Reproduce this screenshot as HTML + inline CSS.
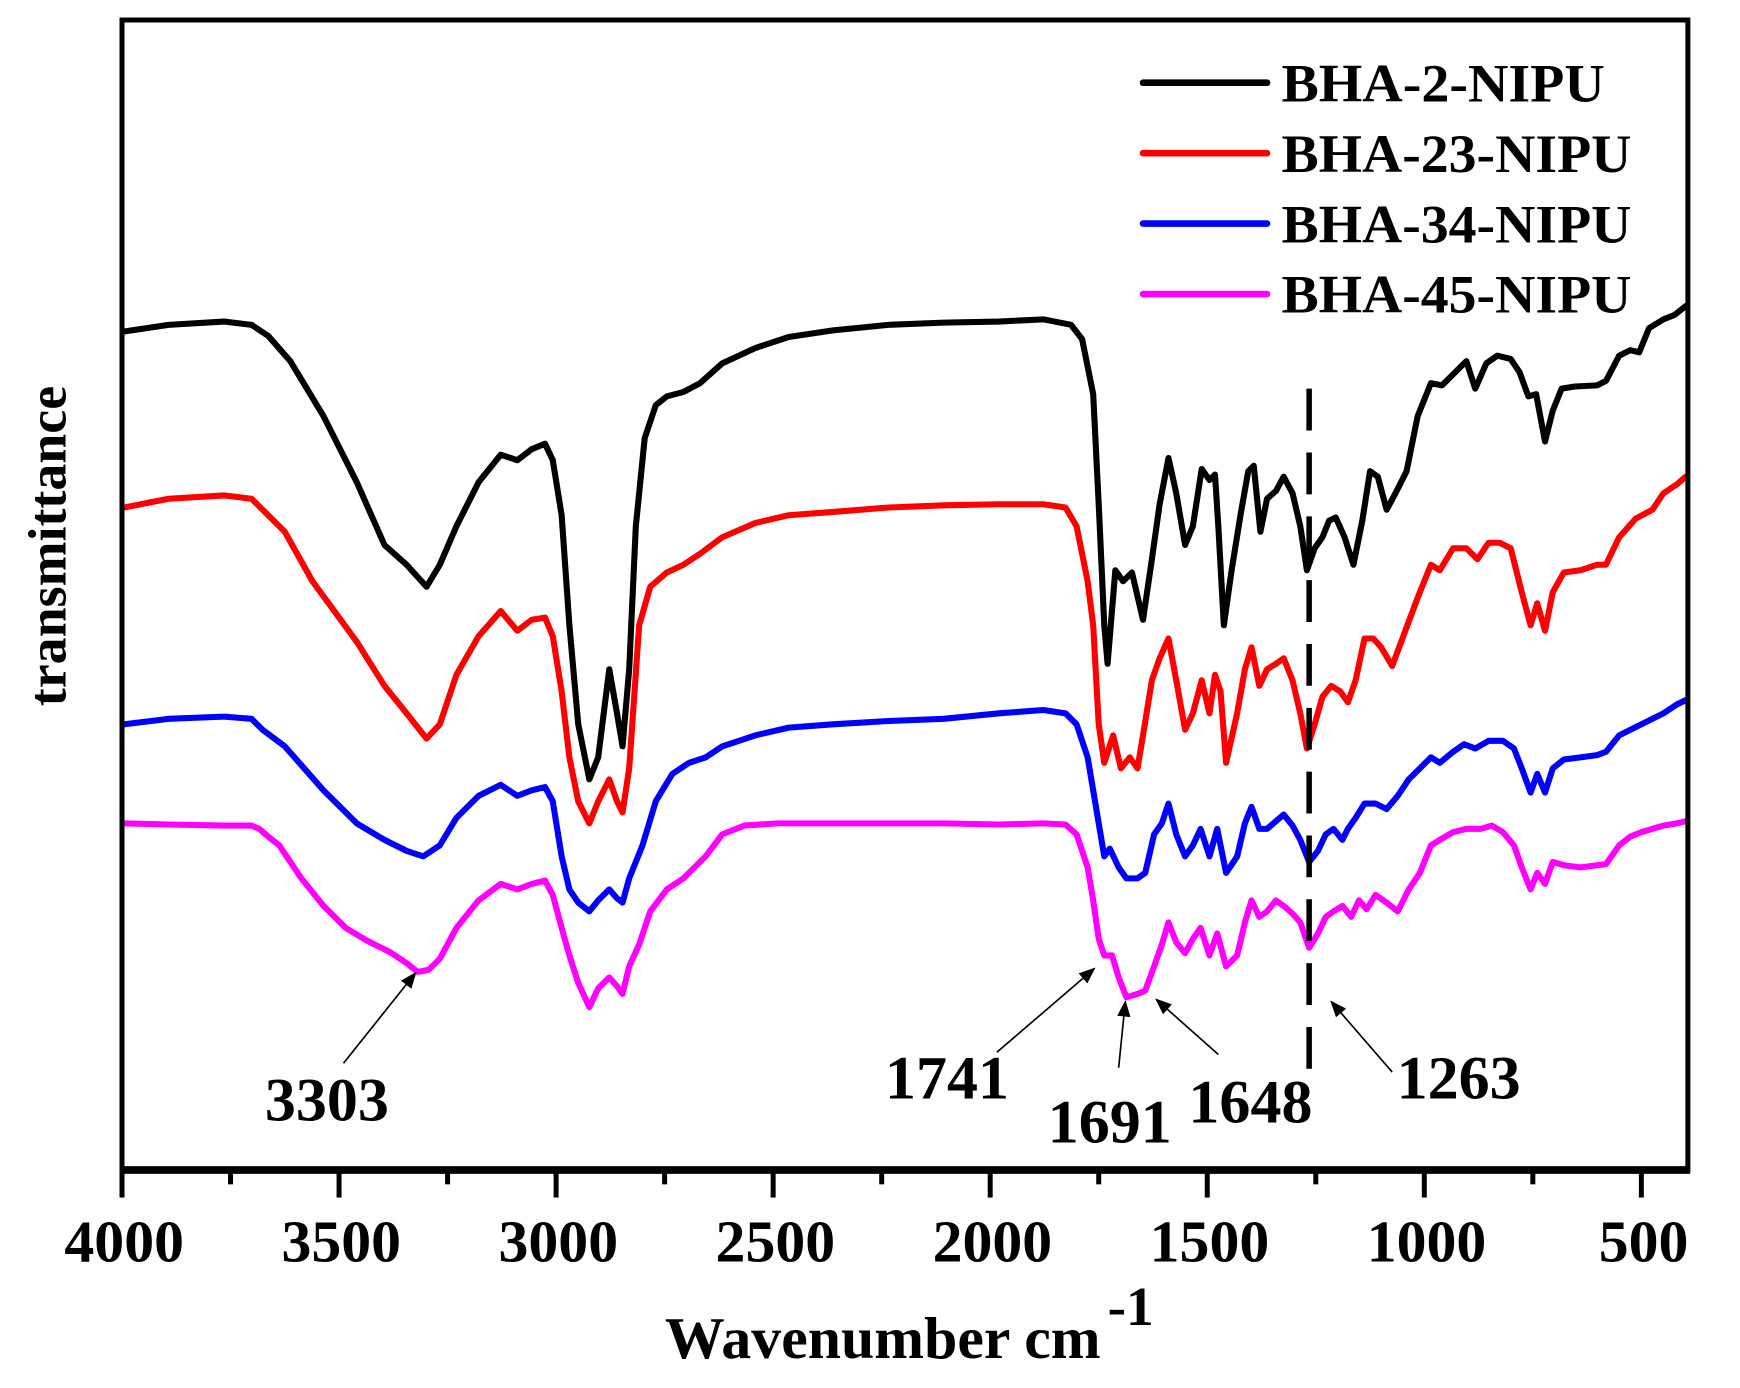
<!DOCTYPE html>
<html><head><meta charset="utf-8"><style>
html,body{margin:0;padding:0;background:#fff;}
svg{display:block;}
text{font-family:"Liberation Serif",serif;font-weight:bold;fill:#000;}
</style></head><body>
<svg width="1740" height="1388" viewBox="0 0 1740 1388" xmlns="http://www.w3.org/2000/svg">
<g transform="translate(2.4,9) scale(1.1074,1.1005)">
<g fill="none" stroke-linejoin="round" stroke-linecap="round" stroke-width="5.5">
<polyline stroke="#000" points="110,293 150,287 200,284 225,287 240,297 260,320 290,370 320,430 345,487 365,505 383,525 395,505 410,470 430,430 450,405 465,410 478,400 490,395 497,410 505,460 512,560 520,650 530,700 538,680 548,600 555,640 560,670 566,600 572,470 580,390 590,360 600,352 615,348 630,340 650,322 680,308 710,298 750,292 800,287 850,285 900,284 940,282 965,287 975,300 985,350 990,450 995,560 998,595 1005,510 1012,520 1020,512 1030,555 1038,500 1045,450 1053,408 1060,440 1068,487 1075,470 1083,418 1090,428 1095,423 1098,470 1103,560 1110,510 1118,460 1125,420 1130,415 1136,475 1142,445 1150,438 1157,425 1165,440 1172,470 1178,510 1185,490 1192,480 1198,465 1204,462 1212,480 1220,505 1228,465 1235,420 1242,425 1250,455 1258,440 1268,420 1278,370 1290,340 1300,342 1312,330 1322,320 1330,345 1340,322 1350,315 1362,318 1370,330 1378,352 1385,350 1393,393 1400,365 1408,345 1420,343 1440,342 1448,338 1460,315 1470,310 1478,312 1487,290 1500,282 1510,278 1520,270"/>
<polyline stroke="#f00" points="110,453 150,445 200,442 225,445 235,455 255,475 280,520 320,575 345,615 365,640 383,663 395,650 410,605 430,570 450,547 465,565 478,555 490,553 497,570 505,620 512,680 520,720 530,740 538,720 548,700 555,720 560,730 566,690 575,560 585,525 600,512 615,505 630,495 650,480 680,467 710,460 750,457 800,453 850,451 900,450 940,450 960,453 970,470 980,520 985,560 990,650 995,685 1003,660 1010,690 1018,680 1025,690 1030,660 1038,610 1045,590 1053,572 1060,610 1068,655 1075,640 1083,610 1090,640 1095,605 1100,620 1105,685 1115,640 1122,600 1128,580 1135,615 1142,600 1150,595 1157,590 1165,610 1172,640 1178,672 1185,650 1192,625 1200,615 1208,620 1215,630 1222,610 1230,572 1238,572 1245,580 1255,597 1265,570 1278,535 1290,505 1298,510 1310,490 1322,490 1332,500 1342,485 1352,485 1362,490 1372,530 1380,560 1386,540 1393,565 1400,530 1410,512 1425,510 1440,505 1448,505 1460,480 1475,463 1490,455 1500,440 1512,432 1520,425"/>
<polyline stroke="#00f" points="110,650 150,645 200,643 225,645 235,655 255,670 290,710 320,740 345,755 365,765 380,770 395,760 410,735 430,715 450,705 465,715 478,710 490,707 497,720 505,770 512,800 520,812 530,820 538,810 548,800 555,808 560,812 566,790 578,760 590,720 605,695 620,685 635,680 650,670 680,660 710,653 750,650 800,647 850,645 900,640 940,637 960,640 970,650 980,680 985,710 990,740 995,770 1000,763 1008,780 1015,790 1025,790 1032,785 1040,750 1047,740 1053,722 1060,750 1068,770 1075,760 1082,745 1090,770 1097,745 1105,785 1115,770 1122,740 1128,725 1135,745 1142,745 1150,738 1157,732 1165,742 1172,755 1180,775 1188,765 1195,750 1202,745 1210,755 1215,745 1222,735 1230,722 1240,722 1250,727 1260,715 1270,700 1280,690 1290,680 1298,685 1310,675 1320,668 1330,672 1342,665 1355,665 1365,672 1372,690 1380,712 1386,695 1393,712 1400,690 1410,682 1425,680 1440,678 1448,675 1460,660 1470,655 1480,650 1490,645 1500,640 1512,632 1520,628"/>
<polyline stroke="#f0f" points="110,740 150,741 200,742 225,742 232,745 240,752 250,760 270,790 290,815 310,835 330,847 350,857 365,867 375,875 385,873 395,863 410,835 430,810 450,795 465,800 478,795 490,792 497,805 505,835 512,860 520,885 530,907 538,890 548,880 555,888 560,895 566,870 575,850 585,820 600,800 615,790 625,780 635,770 650,750 670,742 700,740 750,740 800,740 850,740 900,741 940,740 960,741 970,750 980,780 985,810 990,845 995,860 1002,860 1008,880 1015,898 1025,895 1032,892 1040,870 1047,850 1053,830 1060,848 1068,858 1075,845 1082,835 1090,860 1097,840 1105,870 1115,860 1122,830 1128,810 1135,825 1142,820 1150,810 1157,815 1165,822 1172,830 1180,853 1188,840 1195,825 1202,820 1210,815 1218,825 1225,810 1232,818 1240,805 1250,812 1260,820 1270,800 1280,785 1290,760 1298,755 1310,748 1322,745 1335,745 1345,742 1355,748 1365,760 1372,780 1380,800 1386,785 1393,795 1400,775 1410,778 1425,780 1440,778 1448,777 1460,760 1470,752 1480,748 1490,745 1500,742 1512,740 1520,738"/>
</g>
<line x1="1180" y1="345" x2="1180" y2="978" stroke="#000" stroke-width="5" stroke-dasharray="38,20"/>
<rect x="108" y="10" width="1414" height="1045" fill="none" stroke="#000" stroke-width="4.5"/>
<line x1="106" y1="1055" x2="1524" y2="1055" stroke="#000" stroke-width="7"/>
<g stroke="#000" stroke-width="4.5">
<line x1="108" y1="1055" x2="108" y2="1080"/><line x1="304" y1="1055" x2="304" y2="1080"/><line x1="500" y1="1055" x2="500" y2="1080"/><line x1="696" y1="1055" x2="696" y2="1080"/><line x1="892" y1="1055" x2="892" y2="1080"/><line x1="1088" y1="1055" x2="1088" y2="1080"/><line x1="1284" y1="1055" x2="1284" y2="1080"/><line x1="1480" y1="1055" x2="1480" y2="1080"/>
<line x1="206" y1="1055" x2="206" y2="1068"/><line x1="402" y1="1055" x2="402" y2="1068"/><line x1="598" y1="1055" x2="598" y2="1068"/><line x1="794" y1="1055" x2="794" y2="1068"/><line x1="990" y1="1055" x2="990" y2="1068"/><line x1="1186" y1="1055" x2="1186" y2="1068"/><line x1="1382" y1="1055" x2="1382" y2="1068"/>
</g>
<g font-size="54" text-anchor="middle">
<text x="110" y="1138">4000</text><text x="306" y="1138">3500</text><text x="502" y="1138">3000</text><text x="698" y="1138">2500</text><text x="894" y="1138">2000</text><text x="1090" y="1138">1500</text><text x="1286" y="1138">1000</text><text x="1482" y="1138">500</text>
</g>
<text x="795" y="1226" font-size="54" text-anchor="middle">Wavenumber cm</text>
<text x="998" y="1196" font-size="50">-1</text>
<text transform="translate(57,488) rotate(-90)" font-size="49" text-anchor="middle">transmittance</text>
<g stroke-width="6" stroke-linecap="round">
<line x1="1030" y1="67" x2="1142" y2="67" stroke="#000"/>
<line x1="1030" y1="131" x2="1142" y2="131" stroke="#f00"/>
<line x1="1030" y1="195" x2="1142" y2="195" stroke="#00f"/>
<line x1="1030" y1="259" x2="1142" y2="259" stroke="#f0f"/>
</g>
<g font-size="49">
<text x="1155" y="84" textLength="292" lengthAdjust="spacingAndGlyphs">BHA-2-NIPU</text>
<text x="1155" y="148" textLength="316" lengthAdjust="spacingAndGlyphs">BHA-23-NIPU</text>
<text x="1155" y="212" textLength="316" lengthAdjust="spacingAndGlyphs">BHA-34-NIPU</text>
<text x="1155" y="276" textLength="316" lengthAdjust="spacingAndGlyphs">BHA-45-NIPU</text>
</g>
<defs><marker id="ah2" viewBox="0 0 10 8" markerWidth="18" markerHeight="12" refX="9" refY="4" orient="auto" markerUnits="userSpaceOnUse"><path d="M0,0 L10,4 L0,8 Z" fill="#000"/></marker></defs>
<g stroke="#000" stroke-width="1.5" marker-end="url(#ah2)">
<line x1="308" y1="958" x2="373" y2="876"/>
<line x1="898" y1="948" x2="986" y2="872"/>
<line x1="1008" y1="962" x2="1014" y2="902"/>
<line x1="1098" y1="950" x2="1042" y2="900"/>
<line x1="1255" y1="966" x2="1200" y2="902"/>
</g>
<g font-size="56" text-anchor="middle">
<text x="293" y="1010">3303</text>
<text x="853" y="990">1741</text>
<text x="1000" y="1030">1691</text>
<text x="1127" y="1012">1648</text>
<text x="1315" y="990">1263</text>
</g>
</g>
</svg>
</body></html>
